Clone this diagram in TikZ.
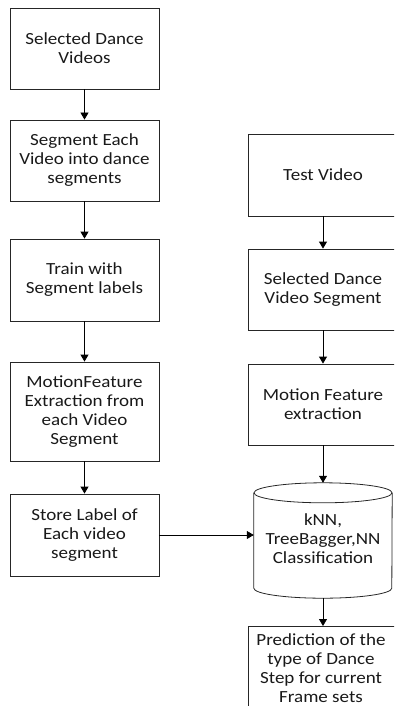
\documentclass[tikz,border=0pt]{standalone}
\usepackage{fontspec}
\setmainfont{Carlito}
\newfontfamily\boxfont[FakeStretch=1.12]{Carlito}
\usetikzlibrary{arrows.meta}
\tikzset{
  boxtext/.style={font=\boxfont\fontsize{17}{19}\selectfont, text=black!90},
  stepbox/.style={draw=black!85, line width=0.8pt, align=center, inner sep=2pt, boxtext},
  flow/.style={draw=black, line width=0.8pt, -{Triangle[length=7pt,width=8pt]}},
}
\begin{document}
\begin{tikzpicture}[x=1pt,y=-1pt]
\useasboundingbox (0,0) rectangle (394,706);
\clip (0,0) rectangle (394,706);
% left column
\node[stepbox, minimum width=149, minimum height=81] (a1) at (84.5,48.5) {Selected Dance\\Videos};
\node[stepbox, minimum width=149, minimum height=81] (a2) at (84.5,160.5) {Segment Each\\Video into dance\\segments};
\node[stepbox, minimum width=149, minimum height=82] (a3) at (84.5,280) {Train with\\Segment labels};
\node[stepbox, minimum width=149, minimum height=99] (a4) at (84.5,411.5) {MotionFeature\\Extraction from\\each Video\\Segment};
\node[stepbox, minimum width=149, minimum height=82] (a5) at (84.5,535) {Store Label of\\Each video\\segment};
% right column
\node[stepbox, minimum width=150, minimum height=82] (b1) at (323,175) {Test Video};
\node[stepbox, minimum width=150, minimum height=81] (b2) at (323,289.5) {Selected Dance\\Video Segment};
\node[stepbox, minimum width=150, minimum height=81] (b3) at (323,404.5) {Motion Feature\\extraction};
% cylinder
\node[align=center, boxtext, minimum width=138, minimum height=115, inner sep=0pt] (cyl) at (323,540.5) {};
\node[align=center, boxtext, inner sep=0pt] (cyltext) at (323,539) {kNN,\\TreeBagger,NN\\Classification};
\draw[black!85, line width=0.8pt] ([yshift=-10]cyl.north west) -- ([yshift=10]cyl.south west)
  arc[start angle=180, end angle=360, x radius=69pt, y radius=10pt] -- ([yshift=-10]cyl.north east);
\draw[black!85, line width=0.8pt] ([yshift=-10]cyl.north) ellipse [x radius=69pt, y radius=10pt];
% prediction
\node[stepbox, anchor=north, minimum width=150, minimum height=100] (b4) at (323,626) {};
\node[align=center, boxtext, inner sep=0pt, anchor=north] (b4text) at (321,633) {Prediction of the\\type of Dance\\Step for current\\Frame sets};
% connectors
\draw[flow] (a1) -- (a2);
\draw[flow] (a2) -- (a3);
\draw[flow] (a3) -- (a4);
\draw[flow] (a4) -- (a5);
\draw[flow] (b1) -- (b2);
\draw[flow] (b2) -- (b3);
\draw[flow] (b3) -- (cyl.north);
\draw[flow] (cyl.south) -- (b4.north);
\draw[flow] (a5.east) -- (a5.east -| cyl.west);
\end{tikzpicture}
\end{document}
